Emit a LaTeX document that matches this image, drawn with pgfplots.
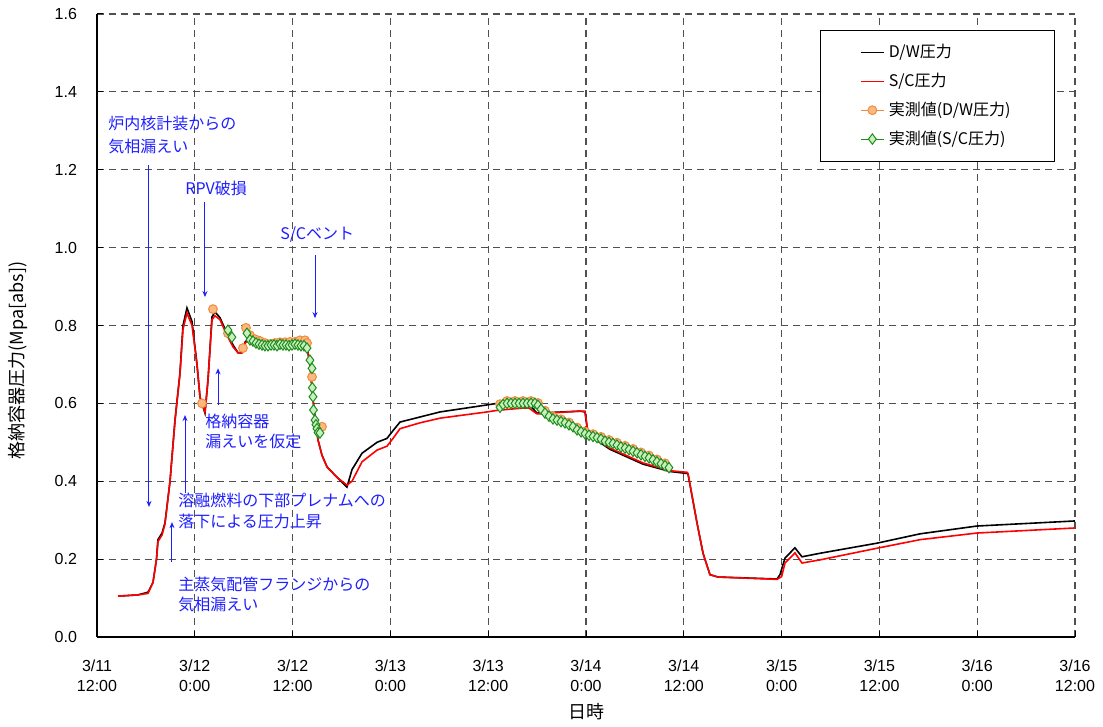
\documentclass[border=0pt]{standalone}
\usepackage{fontspec}
\setmainfont{Noto Sans CJK JP}
\newfontfamily\arialf{Liberation Sans}
\usepackage{pgfplots}
\pgfplotsset{compat=1.18}
\usetikzlibrary{arrows.meta}

\definecolor{annblue}{RGB}{30,30,255}
\definecolor{measorange}{RGB}{240,140,60}
\definecolor{measorangefill}{RGB}{250,185,130}
\definecolor{measgreen}{RGB}{30,140,30}
\definecolor{measgreenfill}{RGB}{200,240,190}
\definecolor{gridgray}{RGB}{80,80,80}

\pgfplotsset{
  markleg/.style={legend image code/.code={\draw[mark repeat=2, mark phase=2, ##1, sharp plot]
    plot coordinates {(0pt,0pt) (5.75pt,0pt) (11.5pt,0pt)};}},
  lineleg/.style={legend image code/.code={\draw[##1, line width=0.9pt] (0pt,0pt) -- (11.5pt,0pt);}},
}

\begin{document}
\begin{tikzpicture}
\begin{axis}[
  name=ax, at={(0,0)}, anchor=south west,
  scale only axis, width=489pt, height=311.5pt,
  xmin=0, xmax=120, ymin=0, ymax=1.6,
  axis x line*=bottom, axis y line*=left,
  axis line style={black, line width=0.6pt},
  tick align=inside, major tick length=3pt,
  tick style={black, line width=0.5pt},
  xtick={0,12,24,36,48,60,72,84,96,108,120},
  xticklabels={{3/11\\12:00},{3/12\\0:00},{3/12\\12:00},{3/13\\0:00},{3/13\\12:00},{3/14\\0:00},{3/14\\12:00},{3/15\\0:00},{3/15\\12:00},{3/16\\0:00},{3/16\\12:00}},
  xticklabel style={align=center, font=\arialf\fontsize{8}{10}\selectfont, yshift=-8pt},
  ytick={0,0.2,0.4,0.6,0.8,1.0,1.2,1.4,1.6},
  yticklabel style={/pgf/number format/fixed, /pgf/number format/fixed zerofill,
    /pgf/number format/precision=1, /pgf/number format/assume math mode=true,
    font=\arialf\fontsize{8}{9}\selectfont, xshift=-6.5pt},
  grid=major,
  major grid style={gridgray, line width=0.6pt, dash pattern=on 3.5pt off 2.5pt},
  xlabel={日時}, ylabel={格納容器圧力(Mpa[abs])},
  every axis x label/.style={at={(rel axis cs:0.5,0)}, anchor=center, yshift=-37.5pt, font=\fontsize{9}{10}\selectfont},
  every axis y label/.style={at={(rel axis cs:0,0.444)}, anchor=center, xshift=-39.5pt, rotate=90, font=\fontsize{9}{10}\selectfont},
  legend style={at={(rel axis cs:1,1)}, anchor=north east, xshift=-10pt, yshift=-8pt,
    draw=black, font=\fontsize{8}{9}\selectfont, inner xsep=20pt, inner ysep=5pt, row sep=2.2pt},
  legend cell align=left,
]
% D/W pressure (analysis)
\addplot[black, line width=0.8pt, lineleg] coordinates {
(2.58,0.105) (5.0,0.108) (6.26,0.115) (6.87,0.14) (7.3,0.20) (7.48,0.25) (7.98,0.267)
(8.34,0.293) (8.96,0.40) (9.57,0.557) (10.18,0.678) (10.55,0.80) (11.04,0.845) (11.66,0.81)
(12.27,0.70) (12.64,0.616) (13.25,0.575) (13.62,0.66) (14.11,0.822) (14.48,0.835) (15.09,0.82)
(15.95,0.78) (16.69,0.75) (17.30,0.73) (17.79,0.73) (18.16,0.757) (18.77,0.77) (20.0,0.77)
(20.86,0.757) (22.09,0.755) (23.68,0.755) (25.28,0.757) (25.77,0.745) (26.13,0.70) (26.50,0.61)
(26.87,0.545) (27.12,0.506) (27.6,0.467) (28.22,0.437) (29.45,0.41) (30.67,0.385) (31.29,0.43)
(32.52,0.472) (34.36,0.50) (35.58,0.51) (36.32,0.53) (37.18,0.552) (39.63,0.565) (42.09,0.578)
(47.85,0.596) (49.08,0.60) (52.88,0.60) (53.99,0.575) (59.26,0.58) (59.88,0.578) (60.25,0.52)
(62.94,0.482) (66.99,0.444) (70.31,0.425) (72.39,0.42) (72.52,0.418) (73.62,0.293) (74.36,0.215)
(75.21,0.16) (76.20,0.154) (83.44,0.149) (83.80,0.16) (84.42,0.203) (85.64,0.229) (86.50,0.206)
(88.71,0.215) (95.71,0.241) (101,0.265) (107.98,0.285) (120,0.298)
};
\addlegendentry{D/W圧力}
% S/C pressure (analysis)
\addplot[red, line width=0.8pt, lineleg] coordinates {
(2.58,0.105) (5.0,0.108) (6.26,0.112) (6.87,0.14) (7.3,0.20) (7.48,0.245) (7.98,0.262)
(8.34,0.29) (8.96,0.40) (9.57,0.555) (10.18,0.675) (10.55,0.79) (11.04,0.832) (11.66,0.80)
(12.27,0.70) (12.64,0.616) (13.25,0.578) (13.62,0.66) (14.11,0.815) (14.48,0.825) (15.09,0.815)
(15.95,0.775) (16.69,0.745) (17.30,0.73) (17.79,0.73) (18.16,0.755) (18.77,0.762) (20.0,0.76)
(20.86,0.752) (22.09,0.752) (23.68,0.752) (25.28,0.755) (25.77,0.742) (26.13,0.70) (26.50,0.61)
(26.87,0.545) (27.12,0.506) (27.6,0.467) (28.22,0.437) (29.45,0.41) (30.67,0.39) (31.29,0.40)
(32.52,0.45) (34.36,0.48) (35.58,0.49) (36.32,0.51) (37.18,0.535) (39.63,0.55) (42.09,0.562)
(47.85,0.578) (49.08,0.582) (52.27,0.588) (53.0,0.588) (53.99,0.573) (59.26,0.58) (59.88,0.58)
(60.25,0.523) (62.94,0.485) (66.99,0.447) (70.31,0.427) (72.39,0.423) (72.52,0.42) (73.62,0.293)
(74.36,0.215) (75.21,0.16) (76.20,0.154) (83.44,0.148) (84.0,0.155) (84.42,0.19) (85.64,0.216)
(86.50,0.19) (88.71,0.198) (95.71,0.228) (101,0.25) (107.98,0.267) (120,0.28)
};
\addlegendentry{S/C圧力}
% measured D/W
\addplot[only marks, color=measorange, mark=*, mark size=2.2pt,
  mark options={draw=measorange, fill=measorangefill, line width=0.5pt}, markleg] coordinates {
(12.88,0.60) (14.23,0.842) (16.07,0.78) (17.91,0.742) (18.28,0.794) (18.77,0.775) (19.39,0.765)
(20.0,0.76) (20.61,0.755) (21.23,0.752) (21.84,0.755) (22.45,0.757) (23.07,0.757) (23.68,0.758)
(24.29,0.758) (24.91,0.762) (25.52,0.762) (25.77,0.755) (26.38,0.668) (27.6,0.54)
(49.45,0.598) (50.31,0.606) (51.29,0.606) (52.27,0.606) (53.25,0.606) (54.11,0.601) (54.97,0.581)
(55.95,0.566) (56.93,0.559) (57.91,0.551) (58.90,0.538) (59.88,0.528) (60.86,0.521) (61.84,0.514)
(62.82,0.506) (63.80,0.499) (64.79,0.491) (65.77,0.483) (66.75,0.474) (67.73,0.466) (68.71,0.456)
(69.69,0.446)
};
\addlegendentry{実測値(D/W圧力)}
% measured S/C
\addplot[only marks, color=measgreen, mark=diamond*, mark size=2.6pt,
  mark options={draw=measgreen, fill=measgreenfill, line width=0.5pt}, markleg] coordinates {
(16.07,0.788) (16.56,0.77) (18.40,0.78) (18.77,0.763) (19.14,0.76) (19.51,0.755) (19.88,0.752)
(20.25,0.75) (20.61,0.748) (20.98,0.748) (21.35,0.75) (21.72,0.75) (22.09,0.748) (22.45,0.752)
(22.82,0.75) (23.19,0.75) (23.56,0.748) (23.93,0.75) (24.29,0.752) (24.66,0.75) (25.03,0.748)
(25.40,0.748) (25.77,0.742) (26.13,0.711) (26.38,0.69) (26.42,0.64) (26.50,0.617) (26.56,0.583)
(26.75,0.557) (26.87,0.545) (26.99,0.535) (27.12,0.525) (27.36,0.524)
(49.45,0.59) (49.82,0.597) (50.31,0.60) (50.80,0.60) (51.29,0.60) (51.78,0.60) (52.27,0.60)
(52.76,0.60) (53.25,0.60) (53.74,0.60) (54.11,0.595) (54.48,0.585) (54.97,0.575) (55.46,0.567)
(55.95,0.56) (56.44,0.557) (56.93,0.553) (57.42,0.55) (57.91,0.545) (58.40,0.54) (58.90,0.532)
(59.39,0.527) (59.88,0.522) (60.37,0.518) (60.86,0.515) (61.35,0.512) (61.84,0.508) (62.33,0.503)
(62.82,0.50) (63.31,0.497) (63.80,0.493) (64.29,0.488) (64.79,0.485) (65.28,0.481) (65.77,0.477)
(66.26,0.473) (66.75,0.468) (67.24,0.464) (67.73,0.46) (68.22,0.455) (68.71,0.45) (69.20,0.445)
(69.69,0.44) (70.18,0.435)
};
\addlegendentry{実測値(S/C圧力)}

% annotations
\draw[annblue, line width=0.5pt, -{Stealth[length=3pt,width=2.5pt]}] (axis cs:6.38,1.212) -- (axis cs:6.38,0.334);
\draw[annblue, line width=0.5pt, -{Stealth[length=3pt,width=2.5pt]}] (axis cs:13.25,1.117) -- (axis cs:13.25,0.873);
\draw[annblue, line width=0.5pt, -{Stealth[length=3pt,width=2.5pt]}] (axis cs:26.75,0.981) -- (axis cs:26.75,0.819);
\draw[annblue, line width=0.5pt, -{Stealth[length=3pt,width=2.5pt]}] (axis cs:14.85,0.596) -- (axis cs:14.85,0.69);
\draw[annblue, line width=0.5pt, -{Stealth[length=3pt,width=2.5pt]}] (axis cs:10.8,0.37) -- (axis cs:10.8,0.57);
\draw[annblue, line width=0.5pt, -{Stealth[length=3pt,width=2.5pt]}] (axis cs:9.2,0.193) -- (axis cs:9.2,0.295);
\node[annblue, anchor=north west, align=left, inner sep=0pt, font=\fontsize{8}{11.5}\selectfont]
  at (axis cs:1.35,1.338) {炉内核計装からの\\気相漏えい};
\node[annblue, anchor=north west, align=left, inner sep=0pt, font=\fontsize{8}{10.5}\selectfont]
  at (axis cs:10.8,1.171) {RPV破損};
\node[annblue, anchor=north west, align=left, inner sep=0pt, font=\fontsize{8}{10.5}\selectfont]
  at (axis cs:22.45,1.055) {S/Cベント};
\node[annblue, anchor=north west, align=left, inner sep=0pt, font=\fontsize{8}{10}\selectfont]
  at (axis cs:13.25,0.573) {格納容器\\漏えいを仮定};
\node[annblue, anchor=north west, align=left, inner sep=0pt, font=\fontsize{8}{10.5}\selectfont]
  at (axis cs:9.94,0.372) {溶融燃料の下部プレナムへの\\落下による圧力上昇};
\node[annblue, anchor=north west, align=left, inner sep=0pt, font=\fontsize{8}{10}\selectfont]
  at (axis cs:9.94,0.154) {主蒸気配管フランジからの\\気相漏えい};
\end{axis}
\pgfresetboundingbox
\path[use as bounding box] (-48.5pt,-45pt) rectangle (503pt,318.5pt);
\end{tikzpicture}
\end{document}
